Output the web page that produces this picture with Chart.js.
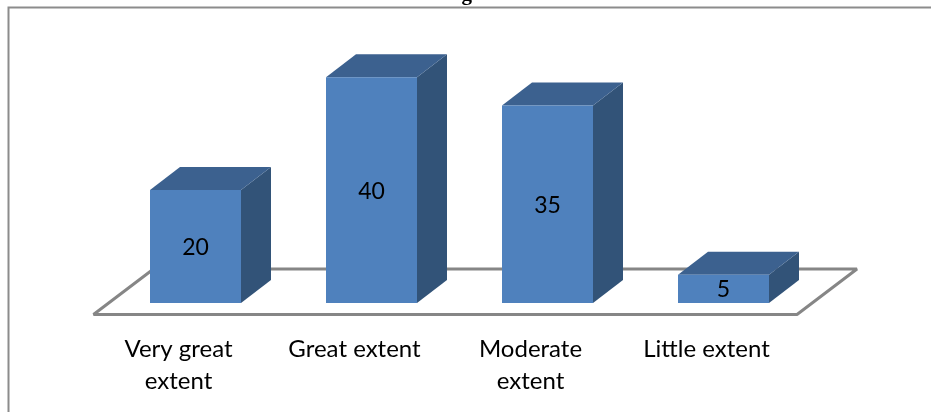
<!DOCTYPE html>
<html>
<head>
<meta charset="utf-8">
<title>Extent chart</title>
<style>
  html, body { margin: 0; padding: 0; background: #fff; overflow: hidden; }
  canvas { display: block; }
</style>
<script src="https://cdn.jsdelivr.net/npm/chart.js@4"></script>
</head>
<body>
<canvas id="extentChart" width="931" height="412"></canvas>
<script>
const categories = [['Very great', 'extent'], 'Great extent', ['Moderate', 'extent'], 'Little extent'];
const responses = [20, 40, 35, 5];
const headingText = 'Focus on mission and vision being the based basis of the financial institution';

const frameColor = '#8c8c8c';
const floorColor = '#868686';
const frontColor = '#4f81bd';
const topColor = '#3c618f';
const sideColor = '#325378';
const labelFont = '23px Lato, "Open Sans", sans-serif';

// depth of the bar box and of the floor it stands on
const barDepth = { x: 30, y: 23 };
const floorInset = { left: -14, right: -14.5, front: 11.5, back: -34, shift: 60 };

function polygon(ctx, points, fill) {
    ctx.beginPath();
    points.forEach((p, i) => (i ? ctx.lineTo(p[0], p[1]) : ctx.moveTo(p[0], p[1])));
    ctx.closePath();
    ctx.fillStyle = fill;
    ctx.fill();
}

const boxPlugin = {
    id: 'box',
    // frame, floor and the two hidden faces go under the library's bars
    beforeDatasetsDraw(chart) {
        const ctx = chart.ctx;
        const xs = chart.scales.x;
        const base = chart.scales.y.getPixelForValue(0);

        ctx.save();
        ctx.strokeStyle = frameColor;
        ctx.lineWidth = 2;
        ctx.beginPath();
        ctx.moveTo(8.5, 412);
        ctx.lineTo(8.5, 7.5);
        ctx.lineTo(931, 7.5);
        ctx.stroke();

        const fl = xs.left + floorInset.left;
        const fr = xs.right + floorInset.right;
        const front = base + floorInset.front;
        const back = base + floorInset.back;
        ctx.strokeStyle = floorColor;
        ctx.lineWidth = 3;
        ctx.lineJoin = 'bevel';
        ctx.beginPath();
        ctx.moveTo(fl, front);
        ctx.lineTo(fr, front);
        ctx.lineTo(fr + floorInset.shift, back);
        ctx.lineTo(fl + floorInset.shift, back);
        ctx.closePath();
        ctx.stroke();

        chart.getDatasetMeta(0).data.forEach(bar => {
            const left = bar.x - bar.width / 2;
            const right = bar.x + bar.width / 2;
            const dx = barDepth.x;
            const dy = barDepth.y;
            polygon(ctx, [[right, bar.y], [right + dx, bar.y - dy], [right + dx, base - dy], [right, base]], sideColor);
            polygon(ctx, [[left, bar.y], [left + dx, bar.y - dy], [right + dx, bar.y - dy], [right, bar.y]], topColor);
        });

        // heading of the page above the frame, cut by the top edge
        ctx.fillStyle = '#000';
        ctx.font = 'bold 21px "Liberation Serif", serif';
        ctx.textAlign = 'left';
        ctx.textBaseline = 'alphabetic';
        ctx.fillText(headingText, 168, 0);
        ctx.restore();
    },
    afterDatasetsDraw(chart) {
        const ctx = chart.ctx;
        ctx.save();
        ctx.fillStyle = '#000';
        ctx.font = labelFont;
        ctx.textAlign = 'center';
        ctx.textBaseline = 'middle';
        chart.getDatasetMeta(0).data.forEach((bar, i) => {
            ctx.fillText(String(responses[i]), bar.x, (bar.y + bar.base) / 2 + 1);
        });
        ctx.restore();
    }
};

new Chart(document.getElementById('extentChart').getContext('2d'), {
    type: 'bar',
    data: {
        labels: categories,
        datasets: [{
            data: responses,
            backgroundColor: frontColor,
            borderWidth: 0,
            barPercentage: 1,
            categoryPercentage: 91 / 176
        }]
    },
    plugins: [boxPlugin],
    options: {
        responsive: false,
        animation: false,
        layout: { padding: { left: 107.5, right: 119.5, top: 49, bottom: 0 } },
        plugins: {
            legend: { display: false },
            tooltip: { enabled: false }
        },
        scales: {
            x: {
                grid: { display: false },
                border: { display: false },
                afterFit(scale) { scale.height = 109; },
                ticks: {
                    autoSkip: false,
                    maxRotation: 0,
                    minRotation: 0,
                    padding: 22,
                    labelOffset: -17,
                    color: '#000',
                    font: { family: 'Lato, "Open Sans", sans-serif', size: 24, lineHeight: 1.33 }
                }
            },
            y: {
                display: false,
                min: 0,
                max: 45
            }
        }
    }
});
</script>
</body>
</html>
